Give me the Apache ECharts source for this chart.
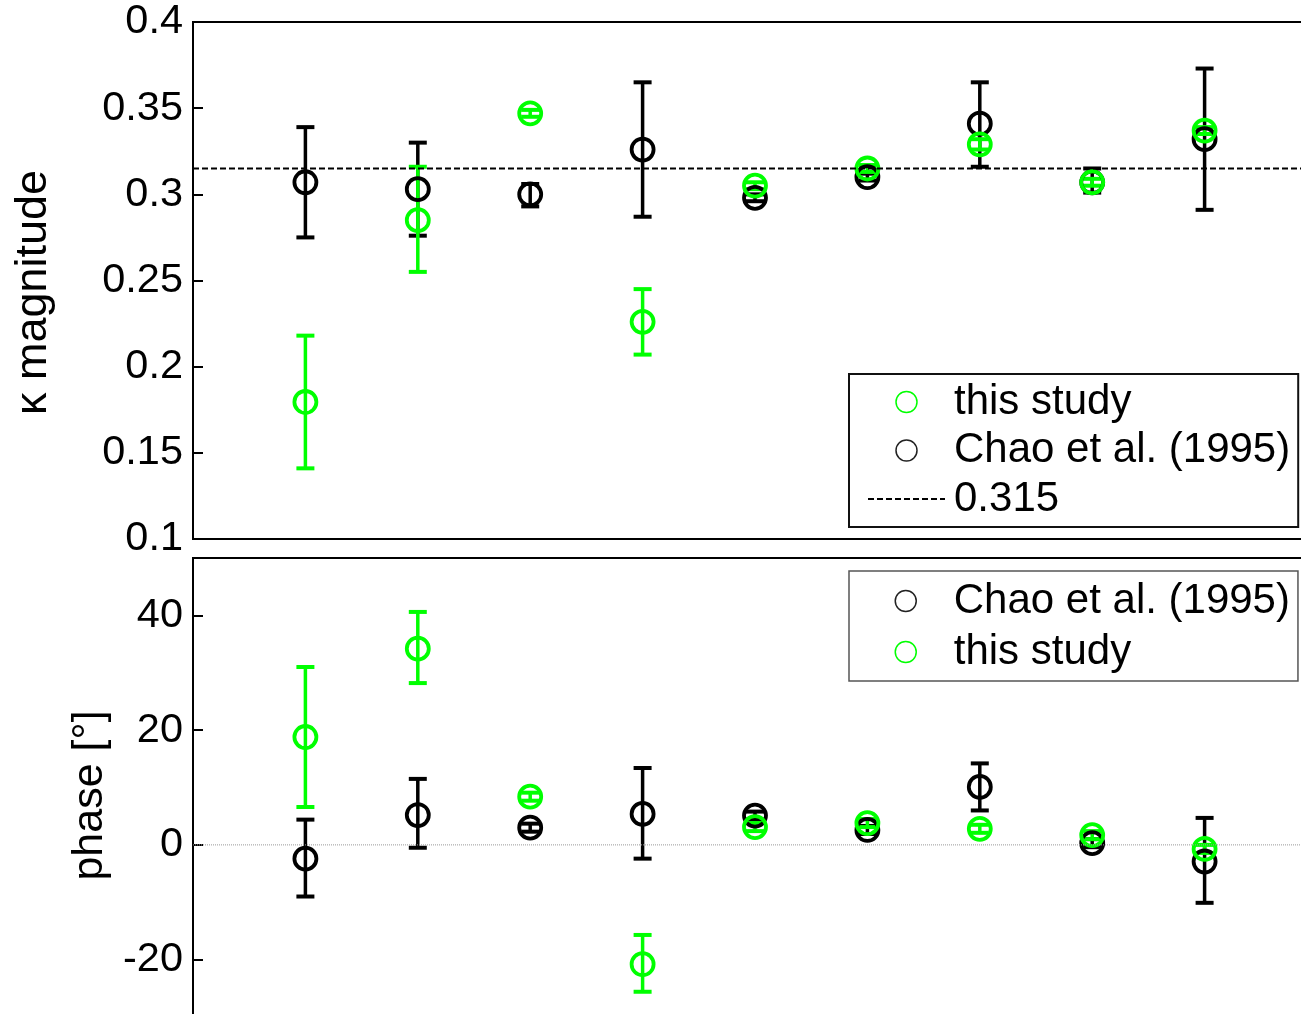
<!DOCTYPE html>
<html>
<head>
<meta charset="utf-8">
<script src="https://cdn.jsdelivr.net/npm/echarts@6/dist/echarts.min.js"></script>
<style>
html,body{margin:0;padding:0;background:#fff;overflow:hidden;width:1301px;height:1014px;}
#chart{width:1440px;height:1014px;}
</style>
</head>
<body>
<div id="chart"></div>
<script>
// ---- data ----
const positions = [1, 2, 3, 4, 5, 6, 7, 8, 9];

const kappaStudy     = [0.1795, 0.285, 0.347, 0.226, 0.305, 0.315, 0.329, 0.307, 0.337];
const kappaStudyLow  = [0.141, 0.255, 0.345, 0.207, 0.303, 0.313, 0.326, 0.305, 0.335];
const kappaStudyHigh = [0.218, 0.316, 0.349, 0.245, 0.307, 0.317, 0.332, 0.309, 0.339];

const kappaChao     = [0.307, 0.303, 0.300, 0.326, 0.298, 0.310, 0.341, 0.307, 0.332];
const kappaChaoLow  = [0.275, 0.276, 0.293, 0.287, 0.296, 0.308, 0.316, 0.301, 0.291];
const kappaChaoHigh = [0.339, 0.330, 0.306, 0.365, 0.300, 0.312, 0.365, 0.315, 0.373];

const phaseStudy     = [18.8, 34.2, 8.4, -20.8, 3.1, 3.8, 2.8, 1.7, -0.7];
const phaseStudyLow  = [6.6, 28.2, 7.7, -25.6, 2.4, 3.1, 2.1, 1.0, -1.4];
const phaseStudyHigh = [31.0, 40.6, 9.1, -15.7, 3.8, 4.5, 3.5, 2.4, 0.0];

const phaseChao     = [-2.4, 5.2, 3.0, 5.4, 5.1, 2.6, 10.1, 0.3, -2.9];
const phaseChaoLow  = [-9.0, -0.5, 2.3, -2.4, 4.4, 1.9, 6.0, -0.4, -10.1];
const phaseChaoHigh = [4.4, 11.5, 3.7, 13.4, 5.8, 3.3, 14.2, 1.0, 4.7];

const kappaRef = 0.315;
const phaseTicks = [-20, 0, 20, 40];
const nameStudy = 'this study';
const nameChao = 'Chao et al. (1995)';
const nameRef = '0.315';

// ---- chart ----
const GREEN = '#00ff00';
const BLACK = '#000000';
const FONT = '"Liberation Sans", Arial, sans-serif';

function pts(xs, ys) { return xs.map((x, i) => [x, ys[i]]); }
function errData(xs, lo, hi) { return xs.map((x, i) => [x, lo[i], hi[i]]); }
function errRender(color) {
  return function (params, api) {
    const x = api.value(0), lo = api.value(1), hi = api.value(2);
    const a = api.coord([x, lo]), b = api.coord([x, hi]);
    const hw = 9;
    const st = { stroke: color, lineWidth: 3.5 };
    const cap = { stroke: color, lineWidth: 4 };
    return {
      type: 'group',
      children: [
        { type: 'line', shape: { x1: a[0], y1: a[1], x2: b[0], y2: b[1] }, style: st },
        { type: 'line', shape: { x1: a[0] - hw, y1: a[1], x2: a[0] + hw, y2: a[1] }, style: cap },
        { type: 'line', shape: { x1: b[0] - hw, y1: b[1], x2: b[0] + hw, y2: b[1] }, style: cap }
      ]
    };
  };
}
function errSeries(name, grid, color, data) {
  return {
    type: 'custom', name: name, xAxisIndex: grid, yAxisIndex: grid,
    renderItem: errRender(color), data: data, encode: { x: 0, y: [1, 2] }, silent: true
  };
}
function markerSeries(name, grid, color, data) {
  return {
    type: 'scatter', name: name, xAxisIndex: grid, yAxisIndex: grid,
    symbol: 'circle', symbolSize: 22,
    itemStyle: { color: 'rgba(255,255,255,0)', borderColor: color, borderWidth: 3.8, opacity: 1 },
    data: data, silent: true
  };
}

const chart = echarts.init(document.getElementById('chart'), null, { renderer: 'canvas' });

const labelStyle = { color: '#000', fontFamily: FONT, fontSize: 41.5, margin: 10 };
const tickStyle = { show: true, inside: true, length: 10, lineStyle: { color: '#000', width: 2 } };
const legendText = { color: '#000', fontFamily: FONT, fontSize: 42, lineHeight: 42 };

const option = {
  backgroundColor: '#ffffff',
  animation: false,
  grid: [
    { left: 193, top: 22, width: 1124, height: 517, show: true, borderColor: '#000', borderWidth: 2, containLabel: false, outerBoundsMode: 'none' },
    { left: 193, top: 558, width: 1124, height: 459, show: true, borderColor: '#000', borderWidth: 2, containLabel: false, outerBoundsMode: 'none' }
  ],
  xAxis: [
    { type: 'value', gridIndex: 0, min: 0, max: 10, show: false },
    { type: 'value', gridIndex: 1, min: 0, max: 10, show: false }
  ],
  yAxis: [
    {
      type: 'value', gridIndex: 0, min: 0.1, max: 0.4, interval: 0.05,
      name: 'κ magnitude', nameLocation: 'middle', nameGap: 137,
      nameTextStyle: { color: '#000', fontFamily: FONT, fontSize: 45, padding: [0, 24, 0, 0] },
      axisLine: { show: false }, axisTick: tickStyle, axisLabel: labelStyle,
      splitLine: { show: false }
    },
    {
      type: 'value', gridIndex: 1, min: -30, max: 50,
      name: 'phase [°]', nameLocation: 'middle', nameGap: 80,
      nameTextStyle: { color: '#000', fontFamily: FONT, fontSize: 43, padding: [0, 16, 0, 0] },
      axisLine: { show: false },
      axisTick: Object.assign({}, tickStyle, { customValues: phaseTicks }),
      axisLabel: Object.assign({}, labelStyle, { customValues: phaseTicks }),
      splitLine: { show: false }
    }
  ],
  legend: [
    {
      left: 849, top: 374, orient: 'vertical', selectedMode: false,
      itemWidth: 77, itemHeight: 21, itemGap: 6.5,
      padding: [7, 8, 7, 18],
      borderColor: '#111', borderWidth: 2, backgroundColor: '#fff',
      textStyle: Object.assign({}, legendText, { padding: [0, 0, 0, 4] }),
      data: [
        { name: nameStudy, icon: 'circle', itemStyle: { color: '#ffffff', borderColor: GREEN, borderWidth: 1.5 } },
        { name: nameChao, icon: 'circle', itemStyle: { color: '#ffffff', borderColor: '#222', borderWidth: 1.5 } },
        { name: nameRef, itemStyle: { opacity: 0 } }
      ]
    },
    {
      left: 849, top: 571, orient: 'vertical', selectedMode: false,
      itemWidth: 21, itemHeight: 21, itemGap: 9,
      padding: [9, 8, 8, 45.5],
      borderColor: '#555', borderWidth: 1.5, backgroundColor: '#fff',
      textStyle: Object.assign({}, legendText, { padding: [0, 0, 0, 32.5] }),
      data: [
        { name: nameChao, icon: 'circle', itemStyle: { color: '#ffffff', borderColor: '#222', borderWidth: 1.5 } },
        { name: nameStudy, icon: 'circle', itemStyle: { color: '#ffffff', borderColor: GREEN, borderWidth: 1.5 } }
      ]
    }
  ],
  series: [
    errSeries('chaoErrK', 0, BLACK, errData(positions, kappaChaoLow, kappaChaoHigh)),
    markerSeries(nameChao, 0, BLACK, pts(positions, kappaChao)),
    errSeries('studyErrK', 0, GREEN, errData(positions, kappaStudyLow, kappaStudyHigh)),
    markerSeries(nameStudy, 0, GREEN, pts(positions, kappaStudy)),
    {
      type: 'line', name: nameRef, xAxisIndex: 0, yAxisIndex: 0,
      data: [[0, kappaRef], [10, kappaRef]], symbol: 'none', silent: true,
      lineStyle: { color: '#000', width: 1.8, type: [6, 3] }
    },
    {
      type: 'line', name: 'zero', xAxisIndex: 1, yAxisIndex: 1,
      data: [[0, 0], [10, 0]], symbol: 'none', silent: true,
      lineStyle: { color: '#999', width: 1, type: [1, 1] }
    },
    errSeries('chaoErrP', 1, BLACK, errData(positions, phaseChaoLow, phaseChaoHigh)),
    markerSeries(nameChao, 1, BLACK, pts(positions, phaseChao)),
    errSeries('studyErrP', 1, GREEN, errData(positions, phaseStudyLow, phaseStudyHigh)),
    markerSeries(nameStudy, 1, GREEN, pts(positions, phaseStudy))
  ]
};
chart.setOption(option);
</script>
</body>
</html>
